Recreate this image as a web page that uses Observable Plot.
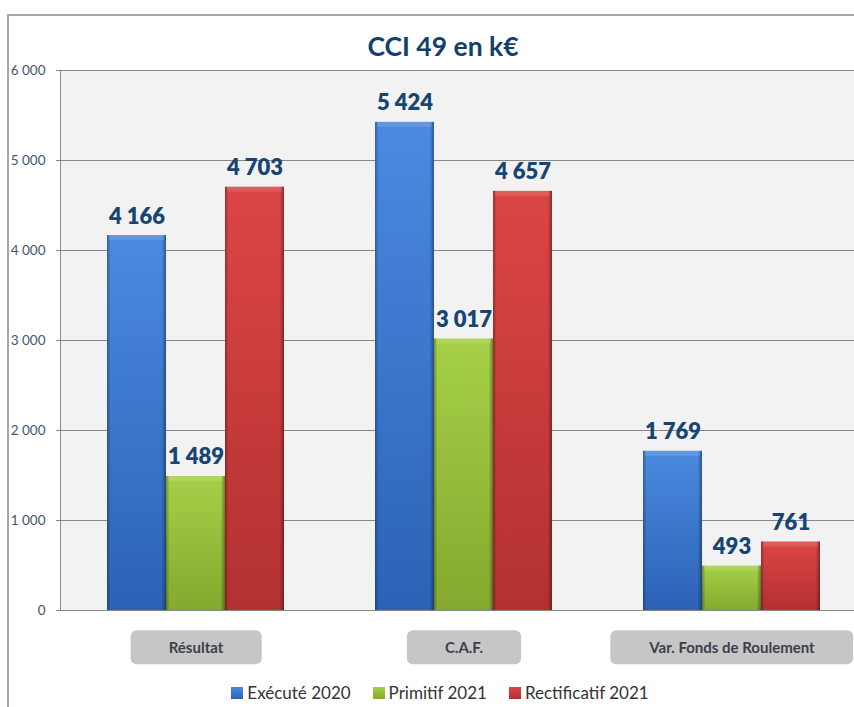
<!DOCTYPE html>
<html><head><meta charset="utf-8">
<script src="https://cdn.jsdelivr.net/npm/d3@7"></script>
<script src="https://cdn.jsdelivr.net/npm/@observablehq/plot@0.6"></script>
<style>
html,body{margin:0;padding:0;background:#fff;overflow:hidden;}
#wrap{position:relative;width:854px;height:707px;overflow:hidden;font-family:Lato,sans-serif;background:#fff;}
.layer{position:absolute;left:0;top:0;}
#border{position:absolute;left:7px;top:14px;width:1000px;height:1000px;border-left:2px solid #a6a6a6;border-top:2px solid #a6a6a6;pointer-events:none;}
#title{position:absolute;top:30px;left:0;width:886px;text-align:center;font-weight:700;font-size:26.5px;color:#123f6e;line-height:32px;}
#legend{position:absolute;top:682px;left:0;width:880px;display:flex;justify-content:center;gap:22px;font-size:17px;color:#333;line-height:22px;}
#legend .it{display:flex;align-items:center;gap:4px;}
#legend .sw{width:12px;height:12px;display:inline-block;}
</style>
</head><body>
<div id="wrap">
  <div id="back" class="layer"></div>
  <div id="chart" class="layer"></div>
  <div id="border"></div>
  <div id="title">CCI 49 en k€</div>
  <div id="legend"></div>
</div>
<script>
const categories = ["Résultat", "C.A.F.", "Var. Fonds de Roulement"];
const series = ["Exécuté 2020", "Primitif 2021", "Rectificatif 2021"];
const execute2020 = [4166, 5424, 1769];
const primitif2021 = [1489, 3017, 493];
const rectificatif2021 = [4703, 4657, 761];
const yTicks = [0, 1000, 2000, 3000, 4000, 5000, 6000];
const seriesColors = [
  ["#4a8ae0", "#2c62b5"],
  ["#a6d048", "#84a92e"],
  ["#dc4545", "#b33131"]
];

const values = [execute2020, primitif2021, rectificatif2021];
const rows = [];
categories.forEach((c, i) => series.forEach((s, j) => rows.push({cat: c, series: s, value: values[j][i]})));

const fmt = d3.formatLocale({decimal: ",", thousands: "\u00a0", grouping: [3], currency: ["", "€"]}).format(",d");
const gradIds = ["gExe", "gPri", "gRec"];

const common = {
  width: 866, height: 670,
  marginLeft: 60, marginRight: 0, marginTop: 70, marginBottom: 60,
  style: {fontFamily: "Lato, sans-serif", background: "transparent", maxWidth: "none", overflow: "visible"}
};

// background layer: plot area, gridlines, y tick labels
const back = Plot.plot({
  ...common,
  y: {domain: [0, 6000], axis: null},
  marks: [
    Plot.frame({fill: "#f2f2f2", stroke: "#8c8c8c"}),
    Plot.ruleY(yTicks, {y: d => d, stroke: "#878787", insetLeft: -4}),
    Plot.text(yTicks, {y: d => d, text: d => fmt(d), frameAnchor: "left", dx: -15, textAnchor: "end", fill: "#44566e", fontSize: 13.5})
  ]
});
document.getElementById("back").appendChild(back);

// bars layer
const svg = Plot.plot({
  ...common,
  fx: {domain: categories, paddingInner: 0.333, paddingOuter: 0.1667, axis: null, label: null},
  x: {domain: series, padding: 0, axis: null},
  y: {domain: [0, 6000], axis: null},
  color: {domain: series, range: gradIds.map(id => `url(#${id})`)},
  marks: [
    Plot.barY(rows, {fx: "cat", x: "series", y: "value", fill: "series"}),
    Plot.barY(rows, {fx: "cat", x: "series", y: "value", fill: "url(#gEdge)"}),
    Plot.barY(rows, {fx: "cat", x: "series", y1: "value", y2: "value", insetBottom: -5, insetLeft: 2, insetRight: 2, fill: "white", fillOpacity: 0.12}),
    Plot.text(rows, {fx: "cat", x: "series", y: "value", text: d => fmt(d.value), dy: -12, lineAnchor: "bottom", fontSize: 22, fontWeight: 800, fill: "#174573"}),
    Plot.text(categories, {fx: d => d, text: d => d, frameAnchor: "bottom", dy: 38, lineAnchor: "middle", fontSize: 15, fontWeight: "bold", fill: "#3a3f4a"})
  ]
});
document.getElementById("chart").appendChild(svg);

// gradients
const ns = "http://www.w3.org/2000/svg";
const defs = d3.select(svg).insert("defs", ":first-child");
gradIds.forEach((id, i) => {
  const g = defs.append("linearGradient").attr("id", id).attr("x1", 0).attr("y1", 0).attr("x2", 0).attr("y2", 1);
  g.append("stop").attr("offset", "0%").attr("stop-color", seriesColors[i][0]);
  g.append("stop").attr("offset", "100%").attr("stop-color", seriesColors[i][1]);
});
const ge = defs.append("linearGradient").attr("id", "gEdge").attr("x1", 0).attr("y1", 0).attr("x2", 1).attr("y2", 0);
[[0, 0.3], [0.06, 0], [0.93, 0], [1, 0.38]].forEach(([o, a]) =>
  ge.append("stop").attr("offset", o).attr("stop-color", "#000").attr("stop-opacity", a));

// category label boxes (sized from the rendered label text)
Array.from(svg.querySelectorAll("text"))
  .filter(t => categories.includes(t.textContent))
  .forEach(t => {
    const b = t.getBBox();
    const r = document.createElementNS(ns, "rect");
    const cy = b.y + b.height / 2;
    r.setAttribute("x", b.x - 38);
    r.setAttribute("y", cy - 17);
    r.setAttribute("width", b.width + 76);
    r.setAttribute("height", 34);
    r.setAttribute("rx", 6);
    r.setAttribute("fill", "#c6c6c6");
    const tr = t.getAttribute("transform");
    if (tr) r.setAttribute("transform", tr);
    t.parentNode.insertBefore(r, t);
  });

// legend
const leg = document.getElementById("legend");
series.forEach((s, i) => {
  const it = document.createElement("span");
  it.className = "it";
  const sw = document.createElement("span");
  sw.className = "sw";
  sw.style.background = `linear-gradient(${seriesColors[i][0]}, ${seriesColors[i][1]})`;
  const tx = document.createElement("span");
  tx.textContent = s;
  it.appendChild(sw); it.appendChild(tx);
  leg.appendChild(it);
});
</script>
</body></html>
